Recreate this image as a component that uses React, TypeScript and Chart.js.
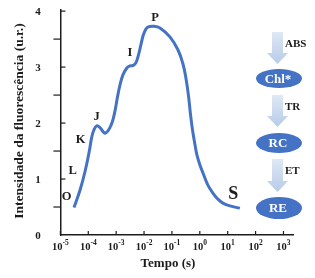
import { useEffect, useRef } from 'react';
import { Chart, registerables } from 'chart.js';

Chart.register(...registerables);

// OJIP fluorescence transient (time in seconds, intensity in u.r.)
const times = [
  3.07e-5, 5.04e-5, 7.61e-5, 1.09e-4, 1.32e-4, 1.6e-4, 2.0e-4, 2.62e-4, 3.36e-4, 3.97e-4,
  5.08e-4, 6.52e-4, 7.87e-4, 9.44e-4, 1.11e-3, 1.37e-3, 1.75e-3, 2.38e-3, 3.13e-3, 4.1e-3,
  5.13e-3, 6.19e-3, 7.74e-3, 9.35e-3, 1.17e-2, 1.42e-2, 2.14e-2, 3.72e-2, 8.47e-2, 0.164,
  0.248, 0.318, 0.39, 0.46, 0.543, 0.667, 0.787, 1.01, 1.32, 1.95,
  2.95, 4.46, 6.73, 12.0, 27.4,
];
const intensity = [
  0.49, 0.8, 1.13, 1.5, 1.74, 1.88, 1.95, 1.92, 1.85, 1.82,
  1.86, 1.96, 2.08, 2.26, 2.46, 2.68, 2.86, 2.98, 3.02, 3.03,
  3.08, 3.2, 3.4, 3.57, 3.68, 3.72, 3.73, 3.7, 3.54, 3.31,
  3.06, 2.8, 2.5, 2.17, 1.89, 1.62, 1.43, 1.25, 1.1, 0.89,
  0.75, 0.64, 0.57, 0.52, 0.48,
];

const xTickExponents = [-5, -4, -3, -2, -1, 0, 1, 2, 3];
const yTickValues = [0, 1, 2, 3, 4];
const yMinorValues = [0.5, 1.5, 2.5, 3.5];

const phaseLabels = ['O', 'L', 'K', 'J', 'I', 'P', 'S'];
const phaseTimes = [1.68e-5, 2.76e-5, 5.34e-5, 2.0e-4, 3.13e-3, 2.46e-2, 15.7];
const phaseValues = [0.68, 1.15, 1.71, 2.11, 3.25, 3.89, 0.72];

const flowSteps = ['ABS', 'TR', 'ET'];
const flowNodes = ['Chl*', 'RC', 'RE'];

const xTitle = 'Tempo (s)';
const yTitle = 'Intensidade da fluorescência (u.r.)';

const SERIF = '"Liberation Serif", "Times New Roman", serif';
const LINE_BLUE = '#4472c4';
const NODE_BLUE = '#4472c4';
const INK = '#1c1c1c';

const overlay = {
  id: 'overlay',
  afterDraw(chart: any) {
    const { ctx } = chart;
    const x = chart.scales.x;
    const y = chart.scales.y;
    const left = x.left;
    const bottom = y.bottom;
    ctx.save();
    ctx.strokeStyle = INK;
    ctx.lineWidth = 1.2;
    const line = (x1: number, y1: number, x2: number, y2: number) => {
      ctx.beginPath();
      ctx.moveTo(x1, y1);
      ctx.lineTo(x2, y2);
      ctx.stroke();
    };
    yTickValues.forEach((v) => {
      if (v === 0) return;
      const py = y.getPixelForValue(v);
      line(left, py, left + 5, py);
    });
    yMinorValues.forEach((v) => {
      const py = y.getPixelForValue(v);
      line(left - 7, py, left, py);
    });
    xTickExponents.forEach((e) => {
      const px = x.getPixelForValue(Math.pow(10, e));
      line(px, bottom, px, bottom - 4);
    });

    // y tick labels
    ctx.fillStyle = INK;
    ctx.font = `bold 11px ${SERIF}`;
    ctx.textAlign = 'center';
    ctx.textBaseline = 'middle';
    yTickValues.forEach((v) => {
      const py = y.getPixelForValue(v);
      ctx.fillText(String(v), 38, py + 1);
    });

    // x tick labels 10^e
    ctx.textAlign = 'left';
    ctx.textBaseline = 'alphabetic';
    xTickExponents.forEach((e) => {
      const px = x.getPixelForValue(Math.pow(10, e));
      const exp = e < 0 ? '-' + Math.abs(e) : String(e);
      ctx.font = `bold 10.5px ${SERIF}`;
      const wb = ctx.measureText('10').width;
      ctx.font = `bold 7.5px ${SERIF}`;
      const we = ctx.measureText(exp).width;
      const start = px - (wb + we) / 2;
      ctx.font = `bold 10.5px ${SERIF}`;
      ctx.fillText('10', start, 250);
      ctx.font = `bold 7.5px ${SERIF}`;
      ctx.fillText(exp, start + wb, 245);
    });

    // axis titles
    ctx.textAlign = 'center';
    ctx.textBaseline = 'middle';
    ctx.font = `bold 13px ${SERIF}`;
    ctx.fillText(xTitle, 168, 264);
    ctx.save();
    ctx.translate(20, 121);
    ctx.rotate(-Math.PI / 2);
    ctx.font = `bold 13.5px ${SERIF}`;
    ctx.fillText(yTitle, 0, 0);
    ctx.restore();

    // phase letters
    phaseLabels.forEach((lab, i) => {
      const px = x.getPixelForValue(phaseTimes[i]);
      const py = y.getPixelForValue(phaseValues[i]);
      ctx.font = lab === 'S' ? `bold 18px ${SERIF}` : `bold 12.5px ${SERIF}`;
      ctx.fillText(lab, px, py);
    });

    // energy flow diagram
    const arrowTops = [32, 95, 159];
    const arrowTips = [64, 127, 192];
    const nodeCenters = [78.5, 143, 208];
    const nodeRy = [9.5, 10, 11];
    const ax = 277.5;
    for (let i = 0; i < 3; i++) {
      const t = arrowTops[i];
      const tip = arrowTips[i];
      const headLen = 11;
      const g = ctx.createLinearGradient(0, t, 0, tip);
      g.addColorStop(0, '#dfe8f5');
      g.addColorStop(1, '#b7cbe8');
      ctx.fillStyle = g;
      ctx.beginPath();
      ctx.moveTo(ax - 5.5, t);
      ctx.lineTo(ax + 5.5, t);
      ctx.lineTo(ax + 5.5, tip - headLen);
      ctx.lineTo(ax + 10.5, tip - headLen);
      ctx.lineTo(ax, tip);
      ctx.lineTo(ax - 10.5, tip - headLen);
      ctx.lineTo(ax - 5.5, tip - headLen);
      ctx.closePath();
      ctx.fill();

      ctx.fillStyle = INK;
      ctx.font = `bold 11px ${SERIF}`;
      ctx.textAlign = 'left';
      ctx.fillText(flowSteps[i], 285, (t + tip) / 2 - 4);

      ctx.fillStyle = NODE_BLUE;
      ctx.beginPath();
      ctx.ellipse(279, nodeCenters[i], 23, nodeRy[i], 0, 0, Math.PI * 2);
      ctx.fill();
      ctx.fillStyle = '#ffffff';
      ctx.font = `bold 13px ${SERIF}`;
      ctx.textAlign = 'center';
      ctx.fillText(flowNodes[i], 278, nodeCenters[i] + 1);
    }
    ctx.restore();
  },
};

export default function App() {
  const ref = useRef<HTMLCanvasElement | null>(null);
  useEffect(() => {
    document.body.style.margin = '0';
    const canvas = ref.current;
    if (!canvas) return;
    const chart = new Chart(canvas, {
      type: 'line',
      data: {
        datasets: [
          {
            data: times.map((t, i) => ({ x: t, y: intensity[i] })),
            borderColor: LINE_BLUE,
            borderWidth: 3,
            pointRadius: 0,
            fill: false,
            tension: 0.4,
            borderCapStyle: 'butt',
          } as any,
        ],
      },
      options: {
        animation: false,
        responsive: true,
        maintainAspectRatio: false,
        layout: { padding: { left: 0.4, right: 22, top: 10, bottom: 0 } },
        plugins: { legend: { display: false }, tooltip: { enabled: false } },
        scales: {
          x: {
            type: 'logarithmic',
            min: 1e-5,
            max: 2.2e3,
            ticks: { display: false },
            grid: { display: false },
            border: { display: true, color: INK, width: 1.5 },
            afterFit: (s: any) => {
              s.height = 43;
            },
          },
          y: {
            type: 'linear',
            min: 0,
            max: 4.02,
            ticks: { display: false },
            grid: { display: false },
            border: { display: true, color: INK, width: 1.5 },
            afterFit: (s: any) => {
              s.width = 60;
            },
          },
        },
      },
      plugins: [overlay],
    });
    return () => chart.destroy();
  }, []);
  return (
    <div style={{ width: 315, height: 278, position: 'relative' }}>
      <canvas ref={ref} />
    </div>
  );
}
